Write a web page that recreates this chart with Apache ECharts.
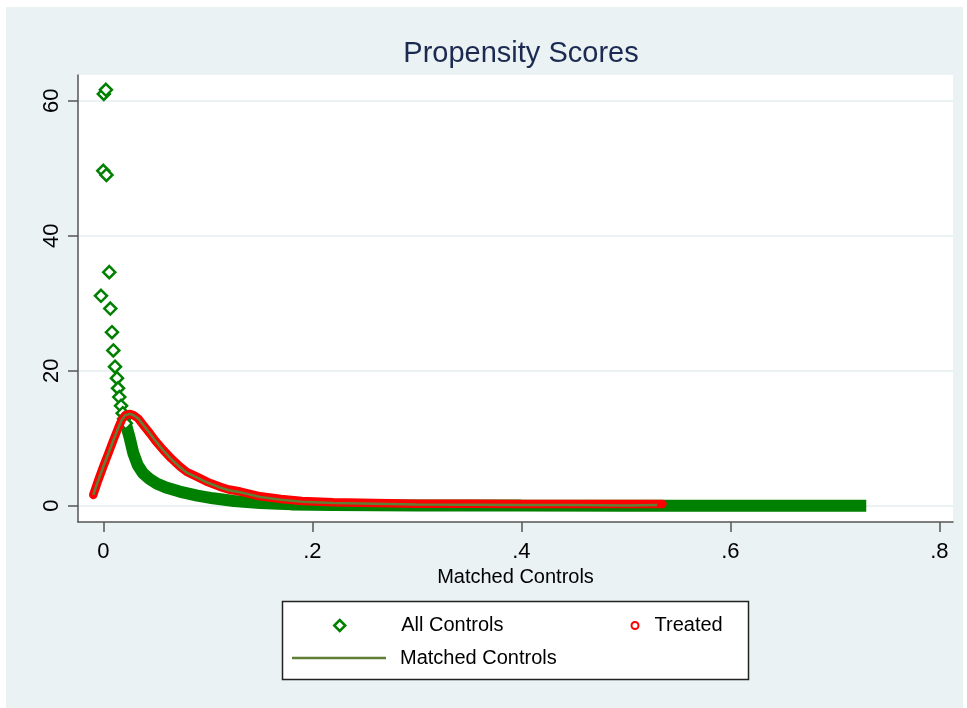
<!DOCTYPE html>
<html>
<head>
<meta charset="utf-8">
<title>Propensity Scores</title>
<script src="https://cdn.jsdelivr.net/npm/echarts@6.0.0/dist/echarts.min.js"></script>
<style>
	html, body { margin: 0; padding: 0; background: #fff; }
	#main { width: 967px; height: 708px; }
</style>
</head>
<body>
<div id="main"></div>
<script>
// tick labels
const xTickValues = [0, 0.2, 0.4, 0.6, 0.8]
const xTickLabels = ['0', '.2', '.4', '.6', '.8']
const yTickValues = [0, 20, 40, 60]
const yTickLabels = ['0', '20', '40', '60']

// All Controls: the separate diamonds near zero
const controlsX = [0.0005, 0.0025, 0.0, 0.003, 0.0057, -0.0022, 0.0067, 0.0083, 0.0096, 0.0112, 0.0131, 0.0141, 0.0153, 0.017, 0.0186, 0.0200, 0.0215]
const controlsY = [61.0, 61.6, 49.6, 49.0, 34.6, 31.1, 29.2, 25.7, 23.0, 20.6, 18.9, 17.4, 16.1, 14.8, 13.7, 12.9, 12.2]
// All Controls: the dense run of diamonds that reads as a band
const controlsBandX = [0.021, 0.025, 0.0287, 0.033, 0.038, 0.044, 0.051, 0.06, 0.073, 0.09, 0.105, 0.125, 0.15, 0.18, 0.22, 0.3, 0.4, 0.5, 0.6, 0.7, 0.73]
const controlsBandY = [12.4, 10.2, 7.8, 6.0, 4.8, 4.0, 3.3, 2.7, 2.1, 1.5, 1.1, 0.7, 0.4, 0.2, 0.1, 0.05, 0.02, 0.0, 0.0, 0.0, 0.0]

// Treated
const treatedX = [-0.0096, -0.005, 0.0, 0.005, 0.0096, 0.014, 0.0176, 0.021, 0.0256, 0.029, 0.0335, 0.039, 0.0447, 0.05, 0.0574, 0.065, 0.0734, 0.08, 0.0894, 0.1, 0.1117, 0.12, 0.131, 0.15, 0.17, 0.19, 0.22, 0.26, 0.3, 0.35, 0.4, 0.45, 0.5, 0.535]
const treatedY = [1.6, 3.7, 5.8, 7.8, 9.7, 11.4, 12.7, 13.4, 13.6, 13.4, 12.9, 11.8, 10.7, 9.6, 8.25, 7.0, 5.8, 5.0, 4.3, 3.5, 2.8, 2.4, 2.1, 1.4, 1.0, 0.7, 0.5, 0.4, 0.3, 0.3, 0.25, 0.25, 0.25, 0.25]

// Matched Controls
const matchedX = [-0.0096, -0.005, 0.0, 0.005, 0.0096, 0.014, 0.0176, 0.021, 0.0256, 0.029, 0.0335, 0.039, 0.0447, 0.05, 0.0574, 0.065, 0.0734, 0.08, 0.0894, 0.1, 0.1117, 0.12, 0.131, 0.15, 0.17, 0.19, 0.22, 0.26, 0.3, 0.35, 0.4, 0.45, 0.5, 0.53]
const matchedY = [1.6, 3.7, 5.8, 7.8, 9.7, 11.4, 12.7, 13.4, 13.6, 13.4, 12.9, 11.8, 10.7, 9.6, 8.2, 6.9, 5.7, 4.9, 4.2, 3.4, 2.7, 2.3, 2.0, 1.3, 0.9, 0.6, 0.4, 0.3, 0.2, 0.15, 0.1, 0.1, 0.05, 0.1]

const zip = (xs, ys) => xs.map((x, i) => [x, ys[i]])

const font = "'Liberation Sans', Arial, sans-serif"
const bg = '#eaf2f3'
const green = '#008000'
const red = '#ff0000'
const olive = '#5f7f35'

const myChart = echarts.init(document.getElementById('main'))

myChart.setOption({
	animation: false,
	backgroundColor: '#fff',
	textStyle: { fontFamily: font },
	graphic: [
		{ type: 'rect', z: -10, silent: true, shape: { x: 6, y: 7, width: 957, height: 701 }, style: { fill: bg } },
		{ type: 'rect', z: -9, silent: true, shape: { x: 282.5, y: 601.5, width: 466, height: 78 }, style: { fill: '#fff', stroke: '#222', lineWidth: 1.5 } }
	],
	title: {
		text: 'Propensity Scores',
		left: 516,
		textAlign: 'center',
		top: 34,
		textStyle: { fontFamily: font, fontSize: 29, fontWeight: 'normal', color: '#1c2a52' }
	},
	legend: [
		{
			data: [{ name: 'All Controls', icon: 'diamond', itemStyle: { color: '#fff', borderColor: green, borderWidth: 2.5 } }],
			left: 333, top: 615.5, padding: 0, itemWidth: 11, itemHeight: 11,
			selectedMode: false,
			textStyle: { fontFamily: font, fontSize: 20, color: '#000', padding: [0, 0, 0, 51] }
		},
		{
			data: [{ name: 'Treated', icon: 'circle', itemStyle: { color: '#fff', borderColor: red, borderWidth: 2 } }],
			left: 630.5, top: 615.5, padding: 0, itemWidth: 7, itemHeight: 7,
			selectedMode: false,
			textStyle: { fontFamily: font, fontSize: 20, color: '#000', padding: [0, 0, 0, 11] }
		},
		{
			data: [{ name: 'Matched Controls', icon: 'rect', itemStyle: { color: olive, borderWidth: 0 } }],
			left: 292, top: 648, padding: 0, itemWidth: 94, itemHeight: 2.5,
			selectedMode: false,
			textStyle: { fontFamily: font, fontSize: 20, color: '#000', padding: [0, 0, 0, 9] }
		}
	],
	grid: {
		left: 78, right: 14, top: 75, bottom: 186,
		show: true, backgroundColor: '#fff', borderWidth: 0
	},
	xAxis: {
		type: 'value',
		min: -0.0242,
		max: 0.813,
		name: 'Matched Controls',
		nameLocation: 'middle',
		nameGap: 42,
		nameTextStyle: { fontFamily: font, fontSize: 20, color: '#000' },
		axisLine: { show: true, onZero: false, lineStyle: { color: '#555', width: 1.5 } },
		axisTick: { show: true, length: 10, customValues: xTickValues, lineStyle: { color: '#555', width: 1.5 } },
		axisLabel: {
			customValues: xTickValues,
			margin: 19,
			fontFamily: font, fontSize: 22, color: '#000',
			formatter: v => xTickLabels[xTickValues.indexOf(v)]
		},
		splitLine: { show: false }
	},
	yAxis: {
		type: 'value',
		min: -2.41,
		max: 63.8,
		axisLine: { show: true, onZero: false, lineStyle: { color: '#555', width: 1.5 } },
		axisTick: { show: true, length: 10, customValues: yTickValues, lineStyle: { color: '#555', width: 1.5 } },
		axisLabel: {
			customValues: yTickValues,
			rotate: 90,
			margin: 15,
			fontFamily: font, fontSize: 22, color: '#000',
			formatter: v => yTickLabels[yTickValues.indexOf(v)]
		},
		splitLine: { show: true, lineStyle: { color: bg, width: 2 } }
	},
	series: [
		{
			name: 'All Controls',
			type: 'scatter',
			symbol: 'diamond',
			symbolSize: 12,
			itemStyle: { color: '#fff', borderColor: green, borderWidth: 2.5, opacity: 1 },
			data: zip(controlsX, controlsY),
			z: 2
		},
		{
			name: 'All Controls',
			type: 'line',
			showSymbol: false,
			lineStyle: { color: green, width: 12, cap: 'butt' },
			itemStyle: { color: green },
			data: zip(controlsBandX, controlsBandY),
			z: 2
		},
		{
			name: 'Treated',
			type: 'line',
			showSymbol: false,
			lineStyle: { color: red, width: 8.5, cap: 'round', join: 'round' },
			itemStyle: { color: red },
			data: zip(treatedX, treatedY),
			z: 3
		},
		{
			name: 'Matched Controls',
			type: 'line',
			showSymbol: false,
			lineStyle: { color: olive, width: 2.5 },
			itemStyle: { color: olive },
			data: zip(matchedX, matchedY),
			z: 4
		}
	]
})
</script>
</body>
</html>
